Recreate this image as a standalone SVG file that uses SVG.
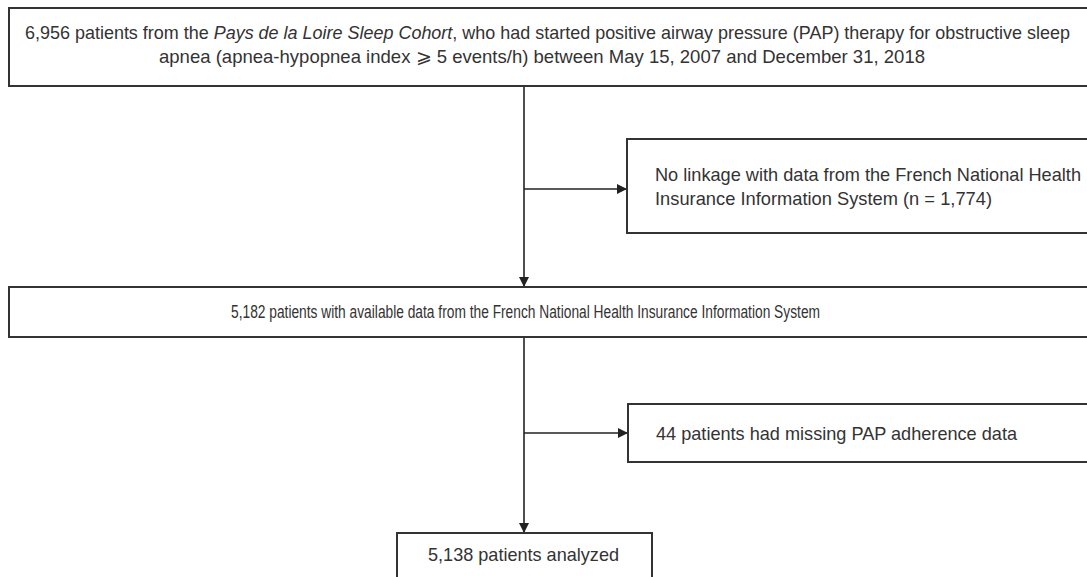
<svg xmlns="http://www.w3.org/2000/svg" width="1087" height="577" viewBox="0 0 1087 577">
<style>
.box{fill:#fff;stroke:#333;stroke-width:2}
.ln{stroke:#222;stroke-width:1.6;fill:none}
text{font-family:"Liberation Sans Narrow","Liberation Sans",Arial,sans-serif;font-size:18.5px;fill:#333}
.sm{font-size:17.5px}
</style>
<defs>
<marker id="ah" markerWidth="10" markerHeight="10" refX="10" refY="5" orient="auto" markerUnits="userSpaceOnUse">
<path d="M0,0 L10,5 L0,10 Z" fill="#222"/>
</marker>
</defs>
<rect width="1087" height="577" fill="#fff"/>
<g id="connectors">
<line class="ln" x1="524" y1="86" x2="524" y2="287" marker-end="url(#ah)"/>
<line class="ln" x1="524" y1="189" x2="627" y2="189" marker-end="url(#ah)"/>
<line class="ln" x1="524" y1="338" x2="524" y2="533" marker-end="url(#ah)"/>
<line class="ln" x1="524" y1="433" x2="628" y2="433" marker-end="url(#ah)"/>
</g>
<g id="n-start">
<rect class="box" x="9" y="8" width="1100" height="78"/>
<text x="25" y="39" textLength="1045" lengthAdjust="spacingAndGlyphs">6,956 patients from the <tspan font-style="italic">Pays de la Loire Sleep Cohort</tspan>, who had started positive airway pressure (PAP) therapy for obstructive sleep</text>
<text x="159" y="63" textLength="766" lengthAdjust="spacingAndGlyphs">apnea (apnea-hypopnea index ⩾ 5 events/h) between May 15, 2007 and December 31, 2018</text>
</g>
<g id="n-nolink">
<rect class="box" x="627" y="139" width="480" height="94"/>
<text x="655" y="181" textLength="426" lengthAdjust="spacingAndGlyphs">No linkage with data from the French National Health</text>
<text x="655" y="205" textLength="337" lengthAdjust="spacingAndGlyphs">Insurance Information System (n = 1,774)</text>
</g>
<g id="n-available">
<rect class="box" x="9" y="287" width="1100" height="50"/>
<text class="sm" x="231" y="318" textLength="589" lengthAdjust="spacingAndGlyphs">5,182 patients with available data from the French National Health Insurance Information System</text>
</g>
<g id="n-missing">
<rect class="box" x="628" y="404" width="480" height="58"/>
<text x="656" y="440" textLength="361" lengthAdjust="spacingAndGlyphs">44 patients had missing PAP adherence data</text>
</g>
<g id="n-analyzed">
<rect class="box" x="397" y="533" width="255" height="60"/>
<text x="428" y="561" textLength="191" lengthAdjust="spacingAndGlyphs">5,138 patients analyzed</text>
</g>
</svg>
